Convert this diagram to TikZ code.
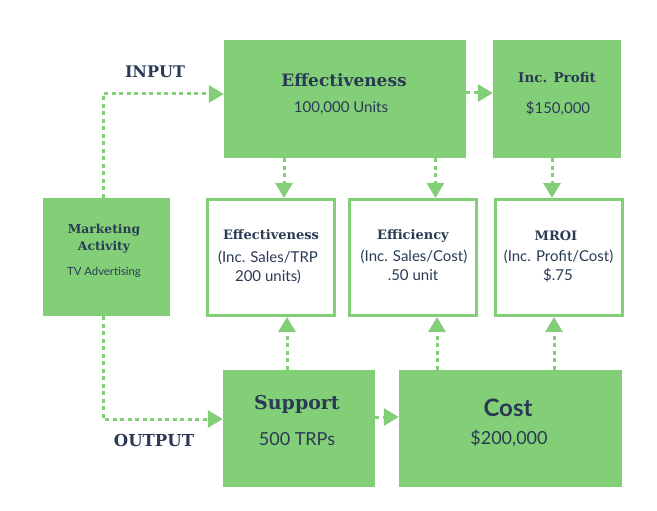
\documentclass[tikz,border=0pt]{standalone}
\usepackage{fontspec}
\setmainfont{Lato}
\newfontfamily\slab{DejaVu Serif}
\usetikzlibrary{arrows.meta}
\definecolor{leaf}{HTML}{83CF77}
\definecolor{ink}{HTML}{2A3A55}
\def\fs#1{\fontsize{#1}{#1}\selectfont}

\begin{document}
\begin{tikzpicture}[x=1pt,y=-1pt,>={Triangle[length=15pt,width=17pt]}]
	\tikzstyle{block} = [rectangle,fill=leaf,inner sep=0pt]
	\tikzstyle{ratio} = [rectangle,draw=leaf,line width=3pt,fill=white,minimum width=127pt,minimum height=116pt]
	\tikzstyle{flow} = [leaf,line width=3pt,dash pattern=on 4pt off 3.5pt]
	\tikzstyle{head} = [text=ink,font=\slab\bfseries,inner sep=0pt]
	\tikzstyle{body} = [text=ink,inner sep=0pt]
	
	\useasboundingbox (0,0) rectangle (657,511);
	
	% boxes
	\node[block,minimum width=127pt,minimum height=118pt](ma) at (106.5,257){};
	\node[block,minimum width=242pt,minimum height=118pt](eff) at (345,99){};
	\node[block,minimum width=128pt,minimum height=118pt](prof) at (557,99){};
	\node[block,minimum width=152pt,minimum height=117pt](sup) at (299,428.5){};
	\node[block,minimum width=223pt,minimum height=117pt](cost) at (510.5,428.5){};
	
	\node[ratio](m-1) at (271,257.5){};
	\node[ratio](m-2) at (412.5,257.5){};
	\node[ratio](m-3) at (559,257.5){};
	
	% texts
	\node[head,font=\slab\bfseries\fs{16}](in) at (155,72){INPUT};
	\node[head,font=\slab\bfseries\fs{16.5}](out) at (154,440){OUTPUT};
	
	\node[head,font=\slab\bfseries\fs{12.3}](ma-t1) at (104,230){Marketing};
	\node[head,font=\slab\bfseries\fs{12.3}](ma-t2) at (104,247){Activity};
	\node[body,font=\fs{11.3}](ma-t3) at (104,272){TV Advertising};
	
	\node[head,font=\slab\bfseries\fs{17}](eff-t1) at (344,80){Effectiveness};
	\node[body,font=\fs{15}](eff-t2) at (341,108){100,000 Units};
	\node[head,font=\slab\bfseries\fs{13.5}](prof-t1) at (557,77){Inc. Profit};
	\node[body,font=\fs{15}](prof-t2) at (558,108){\$150,000};
	
	\node[head,font=\slab\bfseries\fs{13}](m-1-t1) at (271,235){Effectiveness};
	\node[body,font=\fs{15}](m-1-t2) at (268,258){(Inc. Sales/TRP};
	\node[body,font=\fs{15}](m-1-t3) at (268,277){200 units)};
	\node[head,font=\slab\bfseries\fs{13}](m-2-t1) at (413,236){Efficiency};
	\node[body,font=\fs{15}](m-2-t2) at (414,257){(Inc. Sales/Cost)};
	\node[body,font=\fs{15}](m-2-t3) at (413,275){.50 unit};
	\node[head,font=\slab\bfseries\fs{13}](m-3-t1) at (556,236){MROI};
	\node[body,font=\fs{15}](m-3-t2) at (558.5,257){(Inc. Profit/Cost)};
	\node[body,font=\fs{15}](m-3-t3) at (558,275){\$.75};
	
	\node[head,font=\slab\bfseries\fs{19}](sup-t1) at (297,404){Support};
	\node[body,font=\fs{18}](sup-t2) at (297,439){500 TRPs};
	\node[text=ink,font=\bfseries\fs{24},inner sep=0pt](cost-t1) at (508,408){Cost};
	\node[body,font=\fs{18}](cost-t2) at (509,438){\$200,000};
	
	% connectors
	\draw[flow,->] ([xshift=-3.5pt]ma.north) |- ([yshift=5pt]eff.west);
	\draw[flow,->] ([xshift=-3.5pt]ma.south) |- ([yshift=9.5pt]sup.west);
	\path[flow,->] ([yshift=6pt]eff.east) edge ([yshift=6pt]prof.west)
	([yshift=11.5pt]sup.east) edge ([yshift=11.5pt]cost.west);
	
	\foreach \i/\s/\d in {1/eff/13,2/eff/23,3/prof/-7}{
		\path[flow,->] ([xshift=\d pt]m-\i.north |- \s.south) edge ([xshift=\d pt]m-\i.north);
	};
	\foreach \i/\s/\d in {1/sup/16,2/cost/24.5,3/cost/-5}{
		\path[flow,->] ([xshift=\d pt]m-\i.south |- \s.north) edge ([xshift=\d pt]m-\i.south);
	};
\end{tikzpicture}
\end{document}
